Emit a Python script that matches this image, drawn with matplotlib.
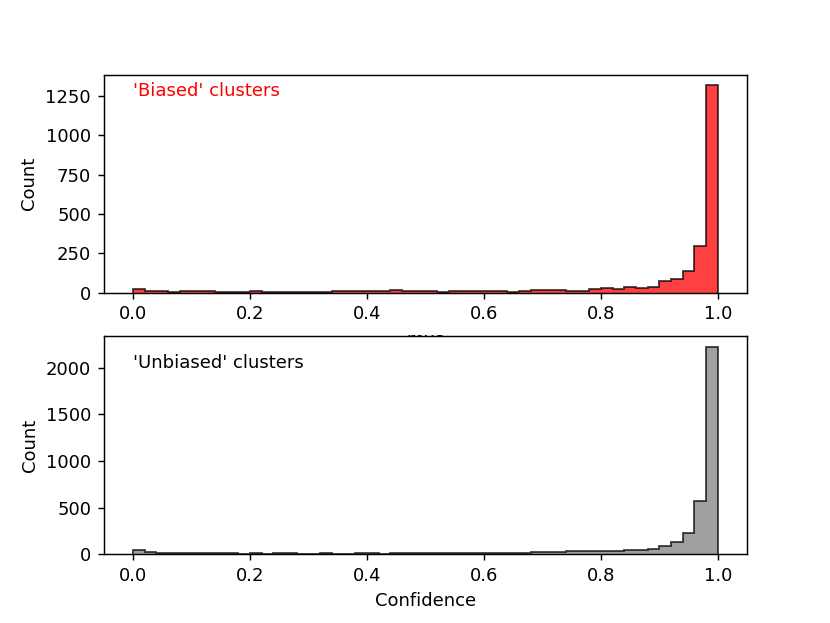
import matplotlib
matplotlib.use("Agg")
import matplotlib.pyplot as plt
import numpy as np

# histogram counts, 50 bins of width 0.02 over [0, 1]
bin_edges = np.linspace(0, 1, 51)

biased_counts = [25, 10, 9, 8, 9, 10, 10, 8, 7, 6,
                 9, 4, 5, 6, 7, 8, 7, 9, 10, 9,
                 10, 11, 18, 12, 10, 9, 8, 11, 9, 12,
                 13, 9, 7, 10, 16, 15, 15, 14, 10, 27,
                 33, 27, 35, 33, 35, 73, 88, 140, 300, 1319]

unbiased_counts = [50, 22, 14, 13, 12, 18, 14, 12, 11, 10,
                   12, 10, 16, 11, 10, 9, 11, 10, 8, 17,
                   12, 10, 11, 12, 13, 12, 13, 14, 17, 16,
                   14, 12, 19, 20, 22, 22, 24, 32, 34, 34,
                   34, 36, 48, 48, 62, 92, 135, 225, 575, 2225]

fig, (ax1, ax2) = plt.subplots(2, 1, figsize=(830 / 130, 623 / 130), dpi=130)

# top: 'biased' clusters
ax1.stairs(biased_counts, bin_edges, fill=True, color="red", alpha=0.75, linewidth=0)
ax1.stairs(biased_counts, bin_edges, color="black", alpha=0.75, linewidth=1)
ax1.set_xlim(-0.05, 1.05)
ax1.set_ylim(0, max(biased_counts) * 1.05)
ax1.set_xlabel("mus")
ax1.set_ylabel("Count")
ax1.text(0, 1250, "'Biased' clusters", color="red")

# bottom: 'unbiased' clusters
ax2.stairs(unbiased_counts, bin_edges, fill=True, color="gray", alpha=0.75, linewidth=0)
ax2.stairs(unbiased_counts, bin_edges, color="black", alpha=0.75, linewidth=1)
ax2.set_xlim(-0.05, 1.05)
ax2.set_ylim(0, max(unbiased_counts) * 1.05)
ax2.set_xlabel("Confidence")
ax2.set_ylabel("Count")
ax2.text(0, 2000, "'Unbiased' clusters", color="black")

fig.savefig("out.png", dpi=130)
